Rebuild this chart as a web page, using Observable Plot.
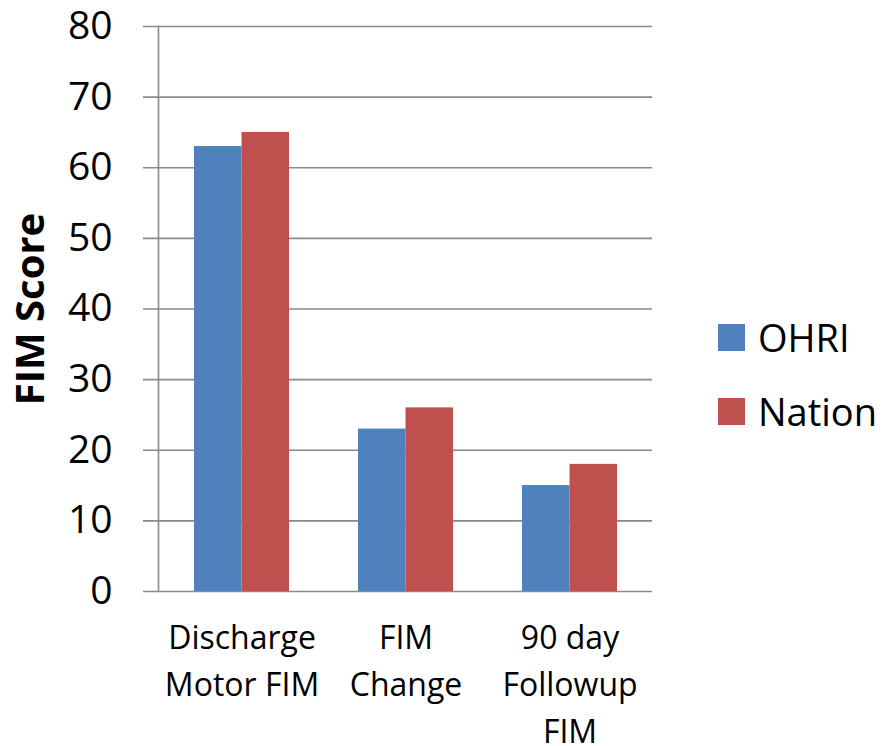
<!DOCTYPE html>
<html>
<head>
<meta charset="utf-8">
<script src="https://cdn.jsdelivr.net/npm/d3@7"></script>
<script src="https://cdn.jsdelivr.net/npm/@observablehq/plot@0.6"></script>
<style>
  html, body { margin: 0; padding: 0; background: #fff; }
  #wrap { position: relative; width: 889px; height: 746px; font-family: "Open Sans", sans-serif; }
  #legend { position: absolute; left: 718px; top: 312px; }
  .item { display: flex; align-items: center; height: 50px; margin-bottom: 24px; font-size: 38px; color: #000; }
  .sw { width: 27px; height: 27px; margin-right: 13px; }
</style>
</head>
<body>
<div id="wrap"><div id="legend"></div></div>
<script>
const categories = ["Discharge Motor FIM", "FIM Change", "90 day Followup FIM"];
const categoryLabels = ["Discharge\nMotor FIM", "FIM\nChange", "90 day\nFollowup\nFIM"];
const seriesNames = ["OHRI", "Nation"];
const ohriValues = [63, 23, 15];
const nationValues = [65, 26, 18];
const seriesColors = ["#4F81BD", "#C0504D"];
const yTicks = [0, 10, 20, 30, 40, 50, 60, 70, 80];
const yTitle = "FIM Score";

const rows = [];
categories.forEach((c, i) => {
  rows.push({category: c, series: "OHRI", value: ohriValues[i]});
  rows.push({category: c, series: "Nation", value: nationValues[i]});
});

const half = 95 / 2;
const chart = Plot.plot({
  width: 889,
  height: 746,
  marginLeft: 158,
  marginRight: 237,
  marginTop: 26,
  marginBottom: 155,
  style: {fontFamily: "'Open Sans', sans-serif", color: "#000", background: "#fff", overflow: "visible"},
  x: {domain: categories, paddingInner: 0.423, paddingOuter: 0.2115},
  y: {domain: [0, 80]},
  color: {domain: seriesNames, range: seriesColors},
  marks: [
    Plot.ruleY(yTicks, {stroke: "#8a8a8a", strokeWidth: 1.6, insetLeft: -15}),
    Plot.barY(rows.filter(d => d.series === "OHRI"), {x: "category", y: "value", fill: "series", insetRight: half}),
    Plot.barY(rows.filter(d => d.series === "Nation"), {x: "category", y: "value", fill: "series", insetLeft: half}),
    Plot.frame({anchor: "left", stroke: "#8a8a8a", strokeWidth: 1.6}),
    Plot.axisY(yTicks, {tickSize: 0, tickPadding: 46, fontSize: 39, label: null, color: "#000"}),
    Plot.axisX({tickSize: 0, tickPadding: 24, fontSize: 32, lineHeight: 1.47, label: null,
      tickFormat: d => categoryLabels[categories.indexOf(d)]}),
    Plot.text([yTitle], {frameAnchor: "left", dx: -127, rotate: -90, fontSize: 40, fontWeight: "bold", textAnchor: "middle"})
  ]
});
document.getElementById("wrap").prepend(chart);

const legend = document.getElementById("legend");
seriesNames.forEach((s, i) => {
  const item = document.createElement("div");
  item.className = "item";
  item.innerHTML = `<div class="sw" style="background:${seriesColors[i]}"></div><span>${s}</span>`;
  legend.appendChild(item);
});
</script>
</body>
</html>
